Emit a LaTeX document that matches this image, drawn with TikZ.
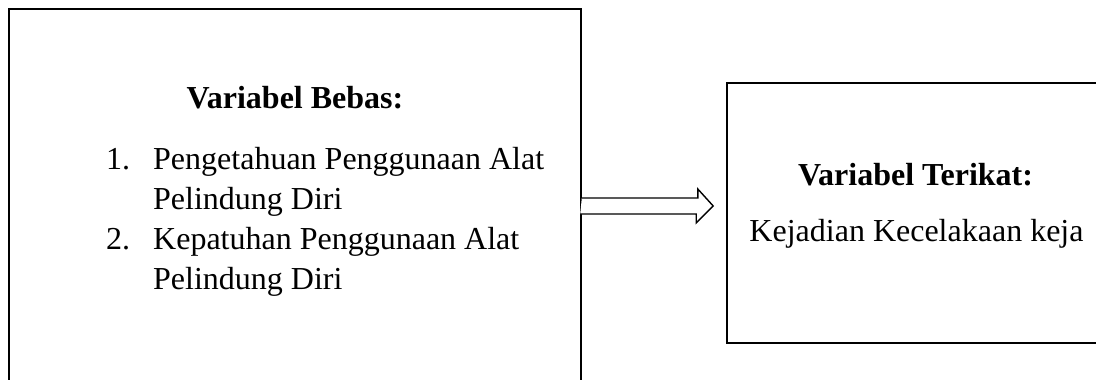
\documentclass[tikz,border=0pt]{standalone}
\usepackage{fontspec}
\setmainfont{Liberation Serif}
\usetikzlibrary{calc}
\begin{document}
\begin{tikzpicture}[x=1pt,y=-1pt,
  box/.style={draw=black,line width=1.6pt,inner sep=0pt,fill=none},
  txt/.style={inner sep=0pt,font=\fontsize{32}{40}\selectfont},
  btxt/.style={inner sep=0pt,font=\fontsize{32}{40}\selectfont\bfseries}]
\useasboundingbox (0,0) rectangle (1096,380);
\clip (0,0) rectangle (1096,380);
\fill[white] (0,0) rectangle (1096,380);
% boxes
\node[box,minimum width=572pt,minimum height=391pt] (L) at (295,204.5) {};
\node[box,minimum width=383pt,minimum height=260pt] (R) at (918.5,213) {};
% left texts
\node[btxt,anchor=base] (lt) at (295,108) {Variabel Bebas:};
\node[txt,anchor=base west] (n1) at (106,169) {1.};
\node[txt,anchor=base west] (i1a) at (153,169) {Pengetahuan Penggunaan Alat};
\node[txt,anchor=base west] (i1b) at (153,209) {Pelindung Diri};
\node[txt,anchor=base west] (n2) at (106,249) {2.};
\node[txt,anchor=base west] (i2a) at (153,249) {Kepatuhan Penggunaan Alat};
\node[txt,anchor=base west] (i2b) at (153,289) {Pelindung Diri};
% right texts
\node[btxt,anchor=base] (rt) at (915.5,185) {Variabel Terikat:};
\node[txt,anchor=base] (rb) at (916.5,241) {Kejadian Kecelakaan keja};
% arrow
\coordinate (a1) at (L.east |- 0,206);
\coordinate (a2) at ($(R.west |- 0,206)+(-13,0)$);
\draw[line width=1.4pt,fill=white,line join=miter]
  (a1) ++(0,-8) -- ++(116,0) -- ++(0,-9) -- (a2) -- ++(-17,17) -- ++(0,-9) -- ++(-116,0);
\end{tikzpicture}
\end{document}
